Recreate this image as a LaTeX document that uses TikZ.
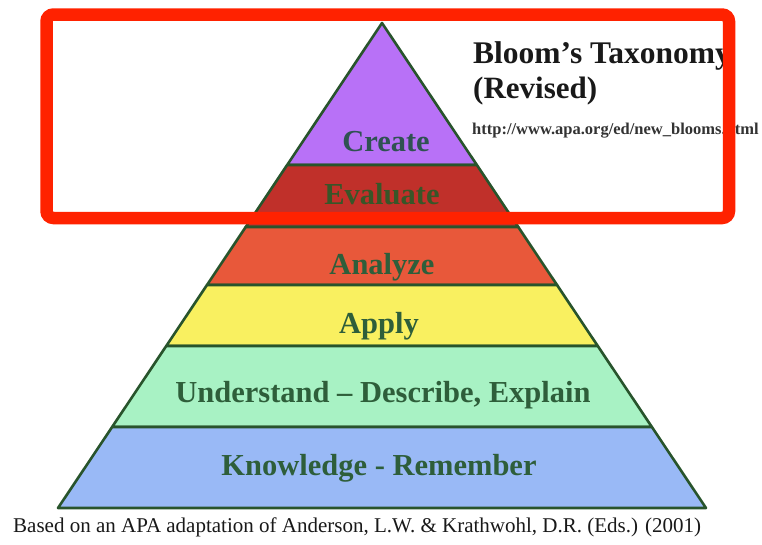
\documentclass[tikz,border=0pt]{standalone}
\usepackage{fontspec}
\setmainfont{Liberation Serif}
\usetikzlibrary{calc}

\definecolor{createcol}{RGB}{184,113,247}
\definecolor{evalcol}{RGB}{192,48,42}
\definecolor{analyzecol}{RGB}{232,88,58}
\definecolor{applycol}{RGB}{249,240,96}
\definecolor{understandcol}{RGB}{168,242,196}
\definecolor{knowcol}{RGB}{153,185,246}
\definecolor{edgegreen}{RGB}{40,84,44}
\definecolor{textgreen}{RGB}{46,94,58}
\definecolor{createtxt}{RGB}{47,82,82}
\definecolor{evaltxt}{RGB}{56,86,40}
\definecolor{framered}{RGB}{255,34,0}

\begin{document}
\begin{tikzpicture}[x=1pt, y=-1pt,
		layer/.style={draw=edgegreen, line width=2.6pt, line join=round},
		lbl/.style={anchor=base, inner sep=0pt, text=textgreen,
			font=\fontsize{30.5}{36}\selectfont\bfseries}]
		\useasboundingbox (0,0) rectangle (762,544);
		\fill[white] (0,0) rectangle (762,544);
	
		\coordinate (apex) at (382,23);
		\coordinate (bl) at (58,508);
		\coordinate (br) at (706,508);
	
		% layers, top to bottom
		\foreach \ta/\tb/\col in {0/0.2928/createcol, 0.2928/0.4206/evalcol,
				0.4206/0.5402/analyzecol, 0.5402/0.6660/applycol,
				0.6660/0.8330/understandcol, 0.8330/1/knowcol} {
			\draw[layer, fill=\col] ($(apex)!\ta!(bl)$) -- ($(apex)!\tb!(bl)$)
				-- ($(apex)!\tb!(br)$) -- ($(apex)!\ta!(br)$) -- cycle;
		}
	
		\node[lbl, text=createtxt] (create) at (386,151) {Create};
		\node[lbl, text=evaltxt] (evaluate) at (382,204) {Evaluate};
		\node[lbl] (analyze) at (382,274) {Analyze};
		\node[lbl] (apply) at (379,333) {Apply};
		\node[lbl] (understand) at (383,402) {Understand – Describe, Explain};
		\node[lbl] (knowledge) at (379,475) {Knowledge - Remember};
	
		\node[anchor=base west, inner sep=0pt, text=black!90,
			font=\fontsize{31.5}{36}\selectfont\bfseries] (title) at (473,63) {Bloom’s Taxonomy};
		\node[anchor=base west, inner sep=0pt, text=black!90,
			font=\fontsize{31}{36}\selectfont\bfseries] (revised) at (473,98) {(Revised)};
		\node[anchor=base west, inner sep=0pt, text=black!80,
			font=\fontsize{16.5}{18}\selectfont\bfseries] (url) at (472,134) {http://www.apa.org/ed/new\_blooms.html};
	
		\node[anchor=base west, inner sep=0pt, text=black!90,
			font=\fontsize{21}{24}\selectfont] (source) at (13,532)
			{Based on an APA adaptation of Anderson, L.W. \& Krathwohl, D.R. (Eds.) (2001)};
	
		% highlight frame on top
		\draw[framered, line width=12.5pt, rounded corners=7pt] (46.5,14.5) rectangle (729,218);
	\end{tikzpicture}
\end{document}
